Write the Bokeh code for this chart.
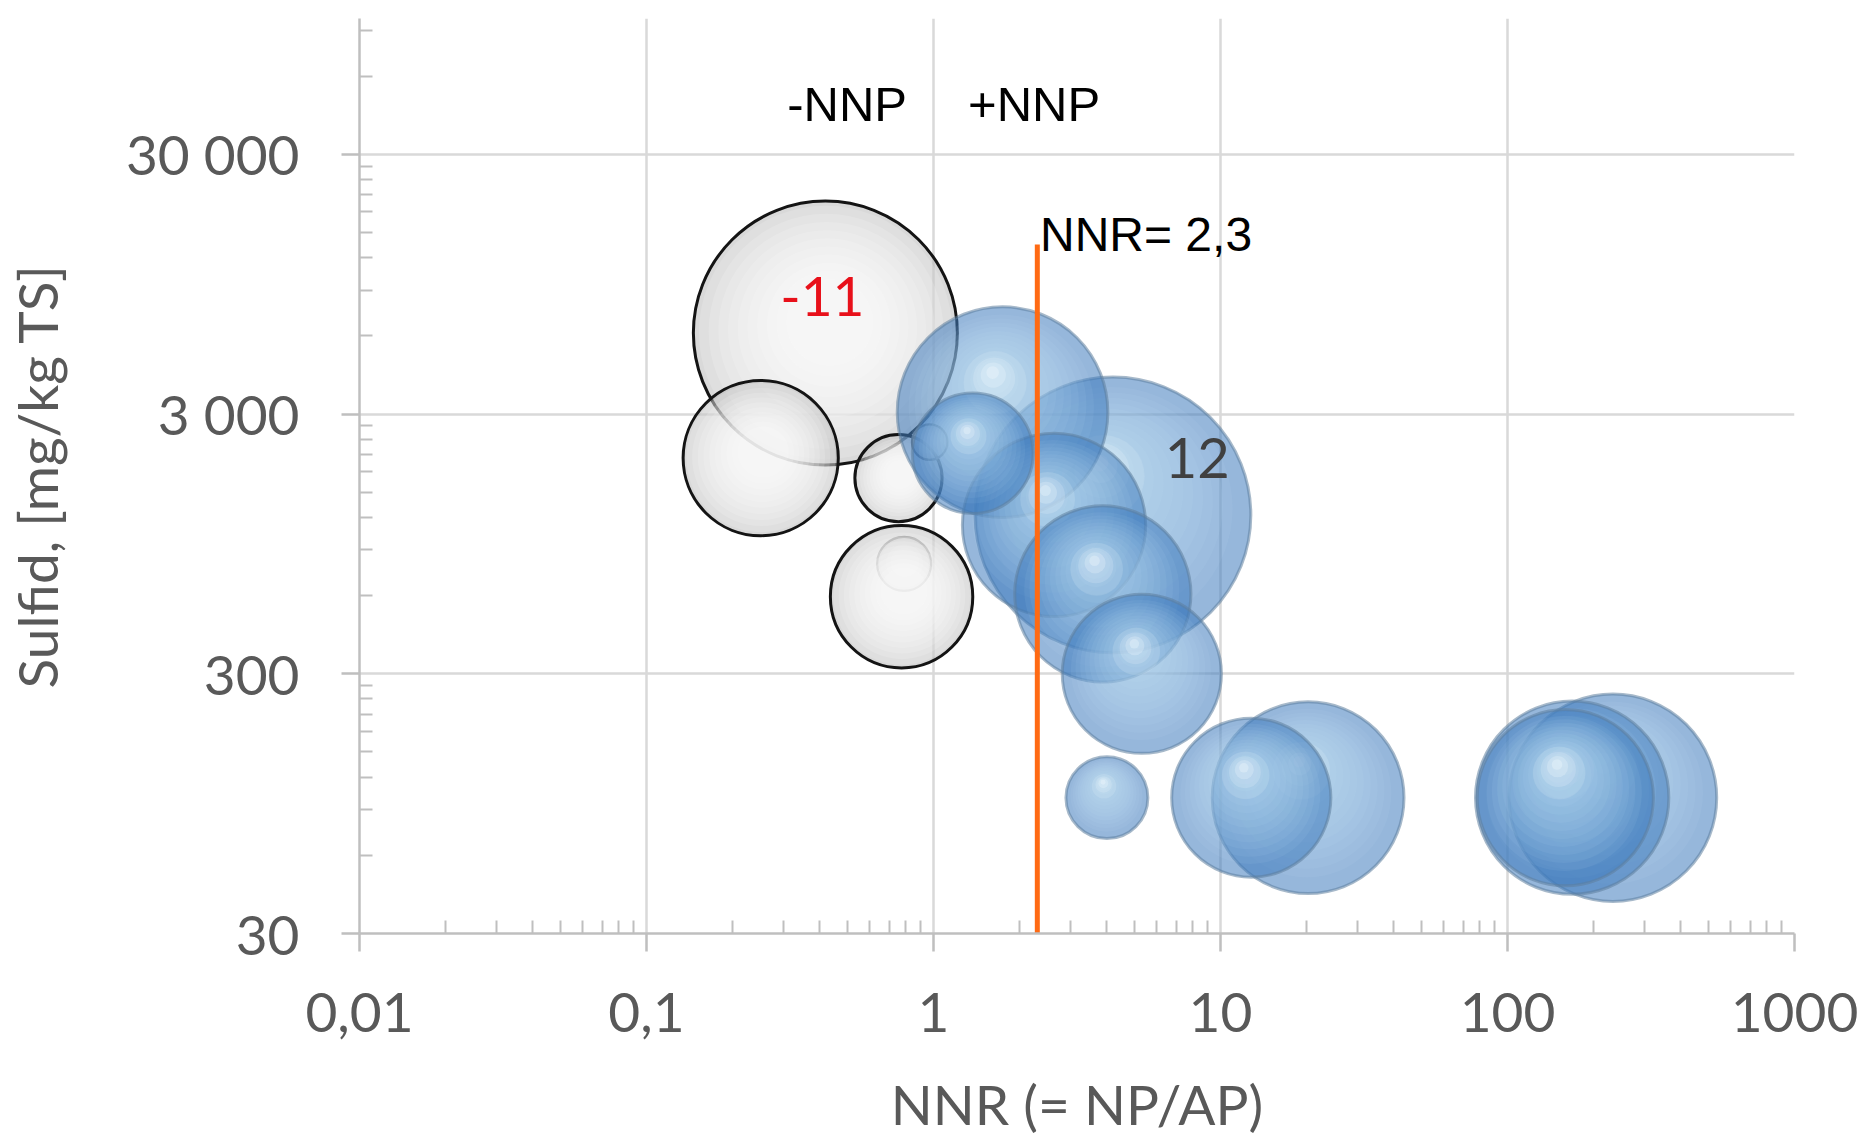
import math
from bokeh.plotting import figure
from bokeh.models import FixedTicker, Label
from bokeh.embed import file_html
from bokeh.resources import INLINE

# ---------------- data ----------------
x_ticks = [0.01, 0.1, 1, 10, 100, 1000]
x_tick_labels = ["0,01", "0,1", "1", "10", "100", "1000"]
y_ticks = [30, 300, 3000, 30000]
y_tick_labels = ["30", "300", "3 000", "30 000"]

# negative NNP samples (white bubbles)
neg_nnr = [0.42, 0.25, 0.79, 0.755, 0.774, 0.97]
neg_sulfid = [6150, 2030, 795, 1700, 594, 2340]
neg_nnp = [-11, -3.8, -0.46, -1.2, -3.2, -0.2]

# positive NNP samples (blue bubbles)
pos_nnr = [4.22, 1.74, 233, 168, 20.2, 2.63, 3.89, 159, 5.32, 12.8, 1.37, 4.02]
pos_sulfid = [1226, 3050, 100, 100, 100, 1122, 609, 100, 300, 100, 2120, 100]
pos_nnp = [12, 7.0, 6.8, 5.9, 5.8, 5.3, 4.9, 4.9, 4.0, 4.0, 2.3, 1.06]

nnr_limit = 2.3
nnr_limit_top = 13500

# ---------------- layout ----------------
W, H = 1875, 1141
BL, BR, BT, BB = 355, 81, 18, 208
X0, X1 = 0.01, 1000
Y0, Y1 = 30, 100000
px_dec_x = (W - BL - BR) / math.log10(X1 / X0)
px_dec_y = (H - BT - BB) / math.log10(Y1 / Y0)
K = 39.8  # px radius per sqrt(|NNP|)

p = figure(width=W, height=H, x_axis_type="log", y_axis_type="log",
           x_range=(X0, X1), y_range=(Y0, Y1),
           output_backend="svg", toolbar_location=None,
           min_border_left=BL, min_border_right=BR,
           min_border_top=BT, min_border_bottom=BB)
p.outline_line_color = None
p.background_fill_color = "white"
p.border_fill_color = "white"

x_minor = [m * 10 ** e for e in range(-2, 3) for m in range(2, 10)]
y_minor = [m * 30 * 10 ** e for e in range(0, 3) for m in range(2, 10)] + [60000, 90000]

p.xaxis.ticker = FixedTicker(ticks=x_ticks, minor_ticks=x_minor)
p.yaxis.ticker = FixedTicker(ticks=y_ticks, minor_ticks=y_minor)
p.xaxis.major_label_overrides = {t: l for t, l in zip(x_ticks, x_tick_labels)}
p.yaxis.major_label_overrides = {t: l for t, l in zip(y_ticks, y_tick_labels)}

for ax in (p.xaxis, p.yaxis):
    ax.axis_line_color = "#bfbfbf"
    ax.axis_line_width = 2.5
    ax.major_tick_line_color = "#bfbfbf"
    ax.major_tick_line_width = 2.5
    ax.major_tick_out = 18
    ax.major_tick_in = 0
    ax.minor_tick_line_color = "#bfbfbf"
    ax.minor_tick_line_width = 2
    ax.minor_tick_in = 13
    ax.minor_tick_out = 0
    ax.major_label_text_font = "Lato"
    ax.major_label_text_font_size = "55px"
    ax.major_label_text_color = "#595959"
    ax.axis_label_text_font = "Lato"
    ax.axis_label_text_font_size = "55px"
    ax.axis_label_text_color = "#595959"
    ax.axis_label_text_font_style = "normal"

p.xaxis.axis_label = "NNR (= NP/AP)"
p.yaxis.axis_label = "Sulfid, [mg/kg TS]"
p.xaxis.major_label_standoff = 41
p.xaxis.axis_label_standoff = 36
p.yaxis.major_label_standoff = 42
p.yaxis.axis_label_standoff = 53

for g in (p.xgrid, p.ygrid):
    g.grid_line_color = "#d9d9d9"
    g.grid_line_width = 2.5


def shifted(x, y, r, fx, fy, t):
    dx = fx * r * t
    dy = fy * r * t
    return x * 10 ** (dx / px_dec_x), y * 10 ** (dy / px_dec_y)


def bubble(x, y, v, kind):
    r = K * math.sqrt(abs(v))
    if kind == "neg":
        p.scatter([x], [y], size=2 * r, fill_color="#b4b4b4", fill_alpha=0.5,
                  line_color=None)
        n = 10
        for i in range(n):
            f = 0.96 - 0.07 * i
            cx, cy = shifted(x, y, r, 0.05, 0.12, 1 - f)
            p.scatter([cx], [cy], size=2 * r * f, fill_color="white", fill_alpha=0.16,
                      line_color=None)
        lw = 3 if r > 30 else 2.2
        lc = "#141414" if abs(v) >= 0.5 else "#777777"
        p.scatter([x], [y], size=2 * r, fill_color=None, line_color=lc, line_width=lw)
    else:
        p.scatter([x], [y], size=2 * r, fill_color="#3f7cbd", fill_alpha=0.55,
                  line_color="#5f7f9f", line_alpha=0.55, line_width=3)
        n = 12
        for i in range(n):
            f = 0.88 - 0.065 * i
            cx, cy = shifted(x, y, r, -0.1, 0.4, 1 - f)
            p.scatter([cx], [cy], size=2 * r * f, fill_color="#d6f0ff", fill_alpha=0.065,
                      line_color=None)
        for f, a in [(0.3, 0.12), (0.2, 0.18), (0.12, 0.25), (0.06, 0.3)]:
            cx, cy = shifted(x, y, r, -0.1, 0.4, 1 - f)
            p.scatter([cx], [cy], size=2 * r * f, fill_color="#f4fcff", fill_alpha=a,
                      line_color=None)


for x, y, v in zip(neg_nnr, neg_sulfid, neg_nnp):
    bubble(x, y, v, "neg")
for x, y, v in zip(pos_nnr, pos_sulfid, pos_nnp):
    bubble(x, y, v, "pos")

# threshold line
p.segment(x0=[nnr_limit], y0=[Y0], x1=[nnr_limit], y1=[nnr_limit_top],
          line_color="#ff6a13", line_width=5)

# annotations
p.add_layout(Label(x=0.5, y=46700, text="-NNP", text_font="Liberation Sans",
                   text_font_size="49px", text_color="black", text_align="center",
                   text_baseline="alphabetic"))
p.add_layout(Label(x=1.32, y=46700, text="+NNP", text_font="Liberation Sans",
                   text_font_size="49px", text_color="black", text_align="left",
                   text_baseline="alphabetic"))
p.add_layout(Label(x=2.35, y=14760, text="NNR= 2,3", text_font="Liberation Sans",
                   text_font_size="48px", text_color="black", text_align="left",
                   text_baseline="alphabetic"))
p.add_layout(Label(x=0.41, y=8530, text="-11", text_font="Lato",
                   text_font_size="55px", text_color="#e8101a", text_align="center",
                   text_baseline="alphabetic"))
p.add_layout(Label(x=8.3, y=2030, text="12", text_font="Lato",
                   text_font_size="56px", text_color="#404040", text_align="center",
                   text_baseline="alphabetic"))

open("out.html", "w").write(file_html(p, INLINE))
